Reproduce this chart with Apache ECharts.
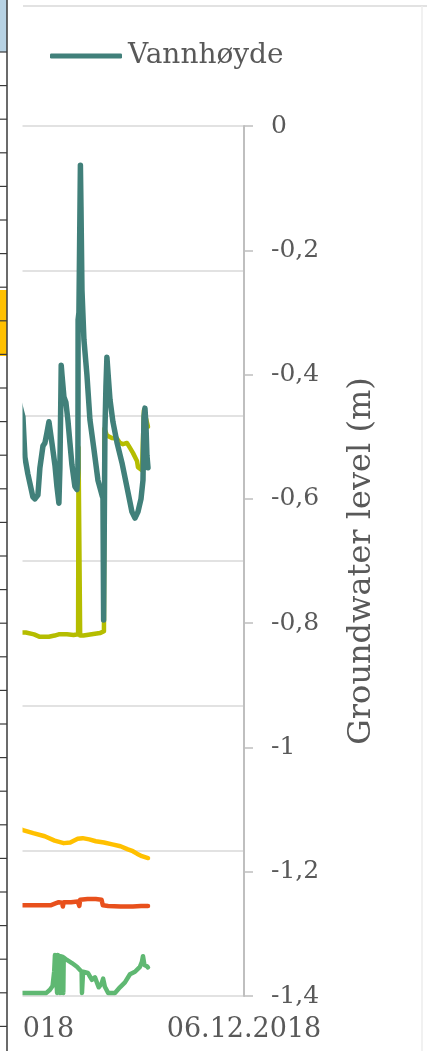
<!DOCTYPE html>
<html>
<head>
<meta charset="utf-8">
<script src="https://cdn.jsdelivr.net/npm/echarts@6/dist/echarts.min.js"></script>
<style>
html,body{margin:0;padding:0;background:#fff;}
#c{width:427px;height:1051px;}
</style>
</head>
<body>
<div id="c"></div>
<script>
// X values are day-of-November 2018 (day 36 = 06.12.2018)
const xTickLabels = ['06.11.2018', '06.12.2018'];
const legendNames = ['Vannhøyde'];
const yTicks = [0, -0.2, -0.4, -0.6, -0.8, -1, -1.2, -1.4];

const tealDays  = [8.6, 9.15, 9.39, 9.75, 10.0, 10.36, 10.61, 10.97, 11.21, 11.58, 11.82, 12.06, 12.31, 12.67, 13.04, 13.28, 13.52, 13.64, 13.76, 13.8, 13.89, 14.13, 14.37, 14.61, 14.86, 15.1, 15.46, 15.71, 15.83, 15.85, 15.95, 16.13, 16.2, 16.32, 16.56, 16.92, 17.29, 17.77, 18.26, 18.75, 18.87, 18.95, 19.05, 19.11, 19.23, 19.35, 19.5, 19.72, 20.08, 20.57, 21.18, 21.78, 22.39, 22.76, 23.12, 23.49, 23.73, 23.85, 23.97, 24.09, 24.21, 24.34];
const tealLevel = [-0.44, -0.468, -0.533, -0.56, -0.575, -0.597, -0.6, -0.594, -0.55, -0.515, -0.51, -0.494, -0.476, -0.51, -0.546, -0.58, -0.607, -0.55, -0.43, -0.385, -0.4, -0.436, -0.445, -0.473, -0.51, -0.545, -0.58, -0.585, -0.55, -0.312, -0.3, -0.063, -0.13, -0.264, -0.344, -0.4, -0.473, -0.52, -0.57, -0.594, -0.599, -0.795, -0.795, -0.49, -0.42, -0.372, -0.4, -0.44, -0.476, -0.509, -0.542, -0.581, -0.621, -0.631, -0.621, -0.6, -0.57, -0.468, -0.454, -0.48, -0.53, -0.55];

const limeDays  = [8.6, 9.5, 10.5, 11.2, 12.3, 13.0, 13.5, 14.5, 15.3, 15.85, 15.9, 16.05, 16.1, 16.5, 17.5, 18.5, 18.99, 19.05, 19.35, 19.96, 20.57, 20.93, 21.3, 21.78, 22.15, 22.51, 23.0, 23.12, 23.61, 23.73, 23.85, 24.09, 24.34];
const limeLevel = [-0.815, -0.815, -0.818, -0.822, -0.822, -0.82, -0.818, -0.818, -0.819, -0.818, -0.517, -0.517, -0.82, -0.82, -0.818, -0.816, -0.813, -0.487, -0.498, -0.502, -0.503, -0.51, -0.512, -0.51, -0.518, -0.526, -0.539, -0.549, -0.554, -0.557, -0.457, -0.454, -0.484];

const yellowDays  = [8.6, 9.15, 10.4, 11.8, 13.0, 14.1, 14.9, 15.8, 16.4, 17.2, 18.0, 19.0, 20.0, 21.0, 21.9, 22.5, 23.0, 23.6, 24.34];
const yellowLevel = [-1.13, -1.133, -1.138, -1.143, -1.15, -1.154, -1.153, -1.147, -1.146, -1.148, -1.151, -1.153, -1.156, -1.159, -1.164, -1.167, -1.171, -1.175, -1.178];

const orangeDays  = [8.6, 11.0, 12.5, 13.1, 13.5, 13.9, 14.0, 14.1, 15.0, 15.8, 16.0, 16.1, 17.0, 18.0, 18.7, 18.85, 19.5, 21.0, 22.5, 23.5, 24.34];
const orangeLevel = [-1.254, -1.254, -1.254, -1.251, -1.249, -1.25, -1.256, -1.249, -1.249, -1.248, -1.255, -1.245, -1.244, -1.244, -1.245, -1.254, -1.255, -1.256, -1.256, -1.255, -1.255];

const greenDays  = [8.6, 12.0, 12.43, 12.75, 12.95, 13.04, 13.2, 13.3, 13.35, 13.6, 13.65, 13.7, 14.01, 14.05, 14.1, 14.49, 15.1, 15.71, 16.28, 16.32, 16.4, 16.45, 16.68, 17.04, 17.53, 17.9, 18.35, 18.7, 18.89, 19.1, 19.5, 20.33, 20.93, 21.54, 22.15, 22.76, 23.36, 23.6, 23.73, 23.9, 24.21, 24.34];
const greenLevel = [-1.395, -1.395, -1.39, -1.384, -1.36, -1.334, -1.333, -1.395, -1.334, -1.336, -1.395, -1.336, -1.337, -1.395, -1.338, -1.342, -1.347, -1.353, -1.361, -1.395, -1.395, -1.361, -1.361, -1.363, -1.374, -1.37, -1.386, -1.38, -1.372, -1.385, -1.395, -1.395, -1.386, -1.378, -1.365, -1.361, -1.353, -1.345, -1.336, -1.35, -1.352, -1.354];

const END_DAY = 36; // 06.12.2018
function pairs(days, vals){ return days.map((d,i)=>[d-END_DAY, vals[i]]); }

const FONT = 'DejaVu Serif';
const GRAY = '#595959';

const tableLines = [];
for (let k = 0; k < 30; k++) {
  const y = 52 + k * 33.6;
  tableLines.push({type:'line', shape:{x1:0,y1:y,x2:7,y2:y}, style:{stroke:'#3a3a3a', lineWidth:1.2}, z:101});
}

function lineSeries(name, days, vals, color, width, z) {
  return {
    name: name, type: 'line', yAxisIndex: 1, symbol: 'none', showSymbol: false,
    data: pairs(days, vals), z: z || 2,
    lineStyle: {color: color, width: width, cap: 'round', join: 'round'},
    itemStyle: {color: color}
  };
}

const chart = echarts.init(document.getElementById('c'), null, {renderer:'canvas'});
chart.setOption({
  animation: false,
  backgroundColor: '#fff',
  legend: {
    data: [{name: legendNames[0], icon: 'roundRect'}],
    left: 50, top: 42, padding: 0,
    itemWidth: 72, itemHeight: 5,
    textStyle: {fontFamily: FONT, fontSize: 28, color: GRAY, padding: [0, 0, 0, 1]}
  },
  grid: {left: -3, right: 183, top: 126, bottom: 55, containLabel: false, outerBoundsMode: 'none'},
  xAxis: {
    type: 'value', min: -30, max: 0, interval: 30,
    axisLine: {show: false}, axisTick: {show: false}, splitLine: {show: false},
    axisLabel: {
      margin: 20, fontFamily: FONT, fontSize: 27, color: GRAY,
      formatter: v => xTickLabels[Math.round((v + 30) / 30)] || ''
    }
  },
  yAxis: [
    {
      type: 'value', position: 'left', min: -6, max: 0, interval: 1,
      axisLine: {show: false}, axisTick: {show: false}, axisLabel: {show: false},
      splitLine: {show: true, lineStyle: {color: '#d9d9d9', width: 1.5}}
    },
    {
      type: 'value', position: 'right', min: -1.4, max: 0, interval: 0.2,
      axisLine: {show: true, lineStyle: {color: '#bfbfbf', width: 2}},
      axisTick: {show: true, inside: false, length: 9, lineStyle: {color: '#bfbfbf', width: 1.5}},
      splitLine: {show: false},
      axisLabel: {
        margin: 27, fontFamily: FONT, fontSize: 25, color: GRAY,
        formatter: v => {
          const r = Math.round(v * 10) / 10;
          return String(r).replace('.', ',');
        }
      },
      name: 'Groundwater level (m)', nameLocation: 'middle', nameGap: 102,
      nameTextStyle: {fontFamily: FONT, fontSize: 32, color: GRAY}
    }
  ],
  series: [
    lineSeries('Vannhøyde', tealDays, tealLevel, '#41807a', 5.5, 3),
    lineSeries('lime', limeDays, limeLevel, '#b5bd00', 4.5, 2),
    lineSeries('yellow', yellowDays, yellowLevel, '#ffc000', 4.5, 2),
    lineSeries('orange', orangeDays, orangeLevel, '#e8501c', 4.5, 2),
    lineSeries('green', greenDays, greenLevel, '#5fb872', 4.5, 2)
  ],
  graphic: [
    {type:'line', shape:{x1:23,y1:6,x2:427,y2:6}, style:{stroke:'#d9d9d9', lineWidth:1.5}, z:100},
    {type:'line', shape:{x1:422,y1:6,x2:422,y2:1051}, style:{stroke:'#ececec', lineWidth:1.5}, z:100},
    {type:'rect', shape:{x:0,y:0,width:22.5,height:1051}, style:{fill:'#ffffff'}, z:100},
    {type:'rect', shape:{x:0,y:0,width:7,height:52}, style:{fill:'#b7d2e3'}, z:101},
    {type:'rect', shape:{x:0,y:290,width:7,height:66}, style:{fill:'#ffc000'}, z:101},
    {type:'line', shape:{x1:7,y1:0,x2:7,y2:1051}, style:{stroke:'#3a3a3a', lineWidth:1.5}, z:102}
  ].concat(tableLines)
});
</script>
</body>
</html>
